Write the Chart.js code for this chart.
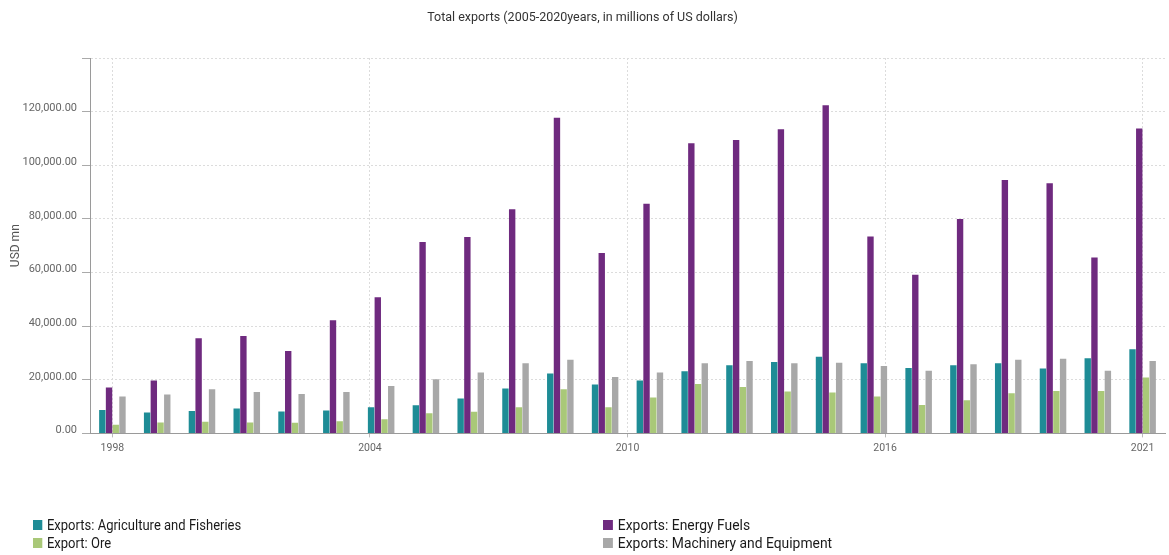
<!DOCTYPE html>
<html>
<head>
<meta charset="utf-8">
<title>Total exports</title>
<script src="https://cdn.jsdelivr.net/npm/chart.js@4.4.1/dist/chart.umd.min.js"></script>
<style>
  html, body { margin: 0; padding: 0; background: #fff; }
  #wrap { position: relative; width: 1169px; height: 555px; }
  #chart { position: absolute; left: 0; top: 0; }
  .legend { position: absolute; top: 516px; font-family: Roboto, "Open Sans", sans-serif; font-size: 14px; color: #1a1a1a; line-height: 18px; transform-origin: left top; }
  .legend div { display: flex; align-items: center; white-space: nowrap; }
  .legend span.box { display: inline-block; width: 10px; height: 10px; margin-right: 5px; }
  #legCol1 { left: 33px; transform: scaleX(0.93); }
  #legCol2 { left: 603px; transform: scaleX(0.99); }
</style>
</head>
<body>
<div id="wrap">
  <canvas id="chart" width="1169" height="555"></canvas>
  <div class="legend" id="legCol1"></div>
  <div class="legend" id="legCol2"></div>
</div>
<script>
// Years on the category axis
const years = ['1998','1999','2000','2001','2002','2003','2004','2005','2006','2007','2008','2009',
               '2010','2011','2012','2013','2014','2015','2016','2017','2018','2019','2020','2021'];

// Exports by product group, USD mn
const agricultureFisheries = [8770, 7800, 8400, 9300, 8180, 8550, 9780, 10500, 13000, 16700, 22300, 18200,
                              19700, 23160, 25390, 26620, 28620, 26130, 24380, 25390, 26130, 24160, 27990, 31340];
const energyFuels = [17100, 19700, 35500, 36300, 30700, 42200, 50800, 71400, 73200, 83600, 117700, 67300,
                     85600, 108200, 109400, 113400, 122400, 73450, 59200, 80000, 94500, 93300, 65600, 113700];
const ore = [3200, 4100, 4300, 4100, 4000, 4570, 5300, 7550, 8030, 9780, 16470, 9780,
             13380, 18440, 17320, 15610, 15240, 13750, 10630, 12380, 14990, 15850, 15850, 20810];
const machineryEquipment = [13750, 14500, 16470, 15460, 14720, 15460, 17700, 20180, 22670, 26130, 27500, 21040,
                            22670, 26130, 26990, 26130, 26390, 25130, 23410, 25760, 27500, 27880, 23410, 26990];

// Year labels shown on the evenly spaced bottom ticks
const yearTickLabels = ['1998', '2004', '2010', '2016', '2021'];

const seriesLabels = ['Exports: Agriculture and Fisheries', 'Exports: Energy Fuels', 'Export: Ore', 'Exports: Machinery and Equipment'];
const seriesColors = ['#1e8c96', '#6f2a7f', '#a9c878', '#a8a8a8'];
const seriesData = [agricultureFisheries, energyFuels, ore, machineryEquipment];

const FONT = 'Roboto, "Open Sans", sans-serif';
const gridColor = '#dcdcdc';

const chart = new Chart(document.getElementById('chart'), {
  type: 'bar',
  data: {
    labels: years,
    datasets: seriesLabels.map((label, i) => ({
      label: label,
      data: seriesData[i],
      backgroundColor: seriesColors[i],
      borderWidth: 0,
      categoryPercentage: 0.6,
      barPercentage: 0.95
    }))
  },
  options: {
    responsive: false,
    animation: false,
    layout: { padding: { left: 0, right: 4, top: 0, bottom: 95 } },
    plugins: {
      legend: { display: false },
      tooltip: { enabled: false },
      title: {
        display: true,
        text: 'Total exports (2005-2020years, in millions of US dollars)',
        color: '#333',
        font: { family: FONT, size: 12.5, weight: 'normal' },
        padding: { top: 10, bottom: 33 }
      }
    },
    scales: {
      x: {
        type: 'category',
        offset: true,
        display: false
      },
      xTicks: {
        type: 'linear',
        axis: 'x',
        position: 'bottom',
        offset: false,
        min: -0.5,
        max: 23.5,
        afterBuildTicks: (scale) => {
          const last = years.length - 1;
          scale.ticks = yearTickLabels.map((_, i) => ({ value: last * i / (yearTickLabels.length - 1) }));
        },
        grid: {
          offset: false,
          color: gridColor,
          tickLength: 4,
          tickColor: '#bbb'
        },
        border: { display: true, color: '#9a9a9a', width: 1, dash: [2, 2] },
        ticks: {
          autoSkip: false,
          maxRotation: 0,
          padding: 5,
          color: '#666',
          font: { family: FONT, size: 10.5 },
          callback: (value, index) => yearTickLabels[index]
        }
      },
      y: {
        min: 0,
        max: 140000,
        afterFit: (scale) => { scale.width = 90; },
        grid: {
          color: gridColor,
          tickLength: 8,
          tickColor: '#aaa'
        },
        border: { display: true, color: '#9a9a9a', width: 1, dash: [2, 2] },
        ticks: {
          stepSize: 20000,
          padding: 5,
          labelOffset: -3,
          color: '#666',
          font: { family: FONT, size: 11 },
          callback: (value) => value >= 140000 ? '' :
            value.toLocaleString('en-US', { minimumFractionDigits: 2, maximumFractionDigits: 2 })
        },
        title: {
          display: true,
          text: 'USD mn',
          color: '#555',
          font: { family: FONT, size: 12 },
          padding: { top: 9, bottom: 0 }
        }
      }
    }
  }
});

// Two-column legend built from the datasets
const col1 = document.getElementById('legCol1');
const col2 = document.getElementById('legCol2');
chart.data.datasets.forEach((ds, i) => {
  const row = document.createElement('div');
  const box = document.createElement('span');
  box.className = 'box';
  box.style.background = ds.backgroundColor;
  row.appendChild(box);
  row.appendChild(document.createTextNode(ds.label));
  (i % 2 === 0 ? col1 : col2).appendChild(row);
});
</script>
</body>
</html>
